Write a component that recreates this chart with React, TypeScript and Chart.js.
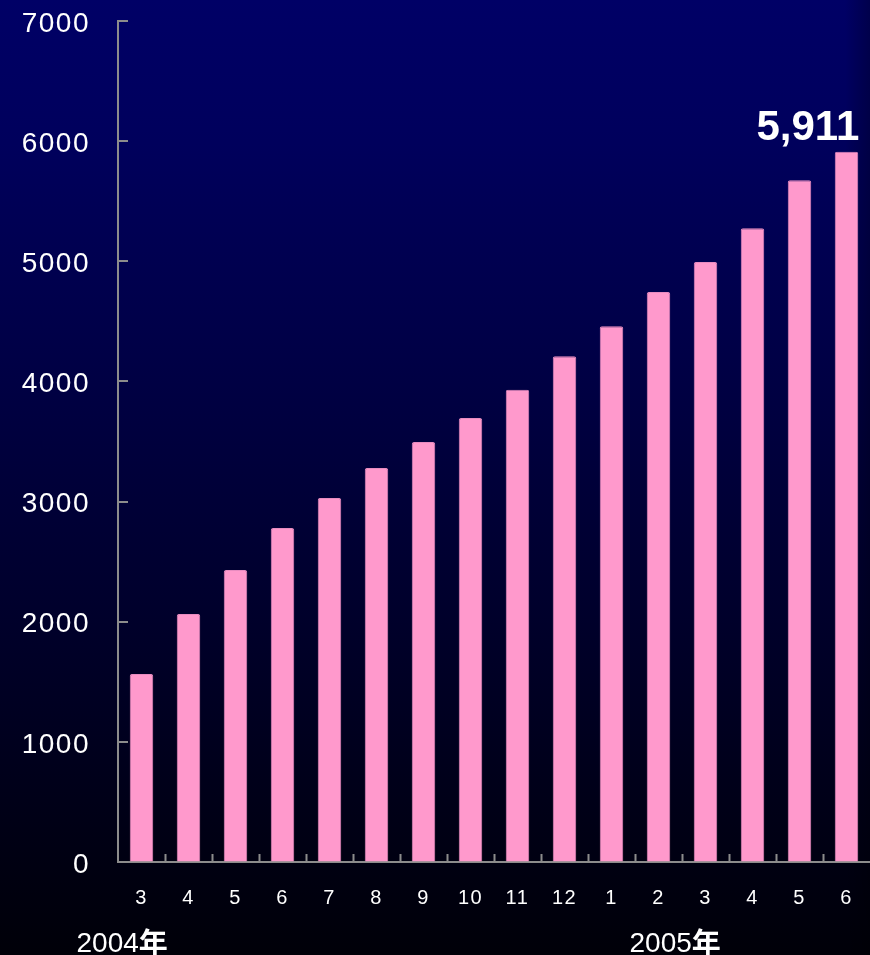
import React, { useEffect, useRef } from "react";
import { Chart, registerables } from "chart.js";

Chart.register(...registerables);

const months = ["3", "4", "5", "6", "7", "8", "9", "10", "11", "12", "1", "2", "3", "4", "5", "6"];
const members = [1565, 2065, 2430, 2780, 3030, 3280, 3495, 3695, 3930, 4210, 4460, 4745, 4995, 5275, 5675, 5911];
const yearLabels = ["2004年", "2005年"];
const yearStartIndex = [0, 10];
const highlightLabel = "5,911";

const AXIS = "#8c8c8c";

const decorPlugin = {
  id: "decor",
  beforeDraw(chart: any) {
    chart.ctx.letterSpacing = "1.5px";
  },
  beforeDatasetsDraw(chart: any) {
    chart.ctx.letterSpacing = "0px";
  },
  afterDraw(chart: any) {
    const ctx = chart.ctx;
    const x = chart.scales.x;
    const y = chart.scales.y;
    const area = chart.chartArea;
    ctx.save();
    ctx.letterSpacing = "0px";
    ctx.strokeStyle = AXIS;
    ctx.lineWidth = 2;
    y.ticks.forEach((t: any) => {
      const py = Math.round(y.getPixelForValue(t.value));
      ctx.beginPath();
      ctx.moveTo(area.left, py);
      ctx.lineTo(area.left + 10, py);
      ctx.stroke();
    });
    for (let i = 1; i < months.length; i++) {
      const px = Math.round((x.getPixelForValue(i - 1) + x.getPixelForValue(i)) / 2) + 0.5;
      ctx.beginPath();
      ctx.moveTo(px, area.bottom);
      ctx.lineTo(px, area.bottom - 8);
      ctx.stroke();
    }
    const meta = chart.getDatasetMeta(0);
    const last = meta.data[meta.data.length - 1];
    ctx.fillStyle = "#ffffff";
    ctx.font = "bold 42px 'Liberation Sans', Arial, sans-serif";
    ctx.textAlign = "right";
    ctx.textBaseline = "alphabetic";
    ctx.fillText(highlightLabel, last.x + last.width / 2 + 1, last.y - 12);
    yearLabels.forEach((lab, k) => {
      const idx = yearStartIndex[k];
      const cx = x.getPixelForValue(idx);
      const left = k === 0 ? cx - 65 : cx + 18;
      const num = lab.replace("年", "");
      ctx.textAlign = "left";
      ctx.font = "28px 'Liberation Sans', Arial, sans-serif";
      ctx.fillText(num, left, 952);
      const w = ctx.measureText(num).width;
      ctx.font = "bold 29px 'Noto Sans CJK JP', sans-serif";
      ctx.fillText("年", left + w, 954);
    });
    ctx.restore();
  },
};

export default function App() {
  const ref = useRef<HTMLCanvasElement>(null);
  useEffect(() => {
    document.body.style.margin = "0";
    const chart = new Chart(ref.current!, {
      type: "bar",
      data: {
        labels: months,
        datasets: [
          {
            data: members,
            backgroundColor: "#ff99cc",
            borderColor: "#e88cc0",
            borderWidth: 1,
            borderRadius: 2,
            borderSkipped: "bottom",
            barPercentage: 0.5,
            categoryPercentage: 1,
          },
        ],
      },
      plugins: [decorPlugin],
      options: {
        animation: false,
        responsive: false,
        maintainAspectRatio: false,
        layout: { padding: { top: 21, right: 0, left: 0, bottom: 0 } },
        plugins: { legend: { display: false }, tooltip: { enabled: false } },
        scales: {
          x: {
            grid: { display: true, drawOnChartArea: false, drawTicks: false },
            border: { display: true, color: AXIS, width: 2 },
            ticks: {
              color: "#ffffff",
              font: { family: "'Liberation Sans', Arial, sans-serif", size: 20 },
              padding: 24,
              maxRotation: 0,
              autoSkip: false,
            },
            afterFit: (s: any) => {
              s.height = 93;
              s.paddingLeft = 0;
              s.paddingRight = 0;
            },
          },
          y: {
            min: 0,
            max: 7000,
            grid: { display: true, drawOnChartArea: false, drawTicks: false },
            border: { display: true, color: AXIS, width: 2 },
            ticks: {
              stepSize: 1000,
              color: "#ffffff",
              font: { family: "'Liberation Sans', Arial, sans-serif", size: 28 },
              padding: 28,
              labelOffset: 3,
              callback: (v: any) => String(v),
            },
            afterFit: (s: any) => {
              s.width = 118;
              s.paddingTop = 0;
              s.paddingBottom = 0;
            },
          },
        },
      },
    });
    return () => chart.destroy();
  }, []);
  return (
    <div
      style={{
        position: "absolute",
        left: 0,
        top: 0,
        width: 870,
        height: 955,
        background:
          "linear-gradient(to right, rgba(0,0,0,0) 0px, rgba(0,0,0,0) 845px, rgba(0,0,0,0.25) 870px), linear-gradient(to bottom, #000066 0%, #00005c 15%, #000008 100%)",
      }}
    >
      <canvas ref={ref} width={870} height={955} style={{ display: "block" }} />
    </div>
  );
}
